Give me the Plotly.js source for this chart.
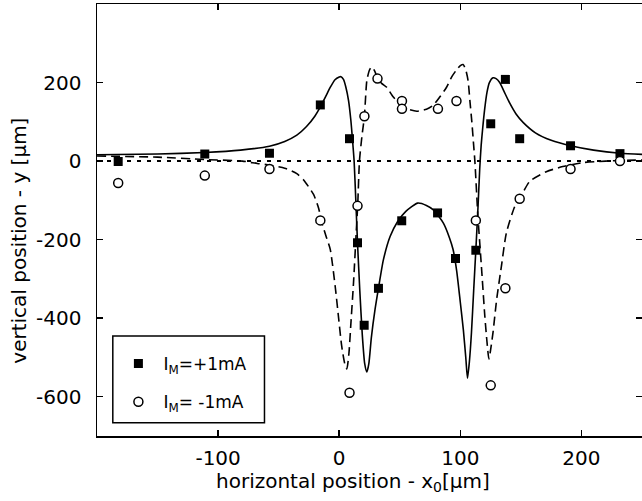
<!DOCTYPE html>
<html>
<head>
<meta charset="utf-8">
<script src="https://cdn.plot.ly/plotly-3.0.1.min.js"></script>
<style>html,body{margin:0;padding:0;background:#fff;}</style>
</head>
<body>
<div id="chart" style="width:642px;height:501px;"></div>
<script>
// measured data, I_M = +1 mA (filled squares)
const plusX = [-182.5, -111, -57.6, -15.6, 8.5, 15.1, 20.6, 32.4, 51.6, 81.2, 96, 112.8, 125.1, 137.2, 149, 191, 231.8];
const plusY = [-1, 18, 20, 143, 57, -208, -418, -324, -152, -132, -248, -227, 95, 208, 57, 39, 19];
// measured data, I_M = -1 mA (open circles)
const minusX = [-182.5, -111, -57.6, -15.6, 8.5, 15.1, 20.8, 31.6, 51.8, 51.8, 81.5, 96.8, 112.8, 125.1, 137.2, 149, 191, 231.8];
const minusY = [-56, -37, -20, -151, -590, -114, 114, 210, 153, 133, 133, 153, -151, -571, -324, -96, -20, 0];
// fitted curve, +1 mA (solid)
const fitPlusX = [-200, -150, -111, -81.5, -57.6, -45, -35, -27, -20, -15.6, -10, -7, -3.5, 0, 1.5, 3.5, 5.5, 7.7, 9.6, 11, 12.3, 13.7, 15.1, 17, 19, 21, 22.8, 24.5, 26.5, 29.6, 32.4, 36.5, 42, 48, 55, 64.8, 72, 78, 86, 91, 94, 97, 100, 102.5, 104.5, 105.9, 107.5, 109.2, 111, 113, 114.7, 116, 117.2, 118.5, 120, 122, 124, 127, 129.5, 132.5, 136, 140.7, 146, 152, 162, 175, 191, 210, 232, 250];
const fitPlusY = [16, 18, 22, 28, 38, 50, 66, 88, 115, 138, 172, 190, 207, 214, 215, 208, 188, 154, 104, 53, 0, -100, -208, -330, -440, -515, -537, -515, -450, -377, -324, -251, -192, -155, -128, -107, -113, -125, -158, -195, -225, -280, -360, -430, -500, -553, -510, -436, -330, -215, -110, -20, 40, 85, 130, 175, 200, 212, 210, 200, 178, 148, 120, 98, 72, 53, 39, 28, 20, 17];
// fitted curve, -1 mA (dashed)
const fitMinusX = [-200, -150, -111, -80, -67.7, -57.6, -45, -35, -29.4, -21.2, -17, -14.5, -11, -7.4, -3.3, -0.5, 2, 4.5, 6.3, 8, 9.5, 11.8, 14, 15.3, 16.7, 18.7, 20.8, 22.8, 25, 27, 29.5, 31.5, 35, 39.2, 44.7, 53, 64, 72, 77.6, 83, 88.6, 93, 96.8, 100, 102.3, 104.5, 106.4, 108, 109.5, 111, 112, 114.5, 117.4, 120.2, 122, 123.6, 125.5, 127, 130, 133.9, 138, 144.9, 149, 157.2, 171, 184.6, 201, 220, 250];
const fitMinusY = [13, 10, 4, 0, -6, -10, -18, -32, -48, -85, -120, -155, -190, -225, -320, -400, -470, -515, -529, -490, -420, -310, -183, -110, 0, 62, 114, 205, 232, 240, 228, 212, 198, 188, 163, 137, 127, 132, 142, 163, 188, 215, 232, 243, 246, 232, 205, 150, 100, 40, 0, -140, -268, -394, -460, -504, -470, -436, -352, -268, -183, -116, -96, -52, -27, -14, -4, 0, 3];
// axes
const xTickVals = [-100, 0, 100, 200];
const xTickText = ['-100', '0', '100', '200'];
const yTickVals = [-600, -400, -200, 0, 200];
const yTickText = ['-600', '-400', '-200', '0', '200'];
const seriesNames = ['I<sub>M</sub>=+1mA', 'I<sub>M</sub>= -1mA'];

const FONT = 'DejaVu Sans, Liberation Sans, Arial, sans-serif';

const traces = [
  {x: fitPlusX, y: fitPlusY, type: 'scatter', mode: 'lines', showlegend: false, hoverinfo: 'skip',
   line: {color: '#000', width: 1.6, shape: 'spline', smoothing: 0.6}},
  {x: fitMinusX, y: fitMinusY, type: 'scatter', mode: 'lines', showlegend: false, hoverinfo: 'skip',
   line: {color: '#000', width: 1.6, dash: '9px,5px', shape: 'spline', smoothing: 0.6}},
  {x: plusX, y: plusY, type: 'scatter', mode: 'markers', name: seriesNames[0], legendgroup: 'a',
   marker: {symbol: 'square', size: 9, color: '#000'}},
  {x: minusX, y: minusY, type: 'scatter', mode: 'markers', name: seriesNames[1], legendgroup: 'b',
   marker: {symbol: 'circle', size: 9, color: '#fff', line: {color: '#000', width: 1.5}}}
];

const axisCommon = {
  showline: true, linecolor: '#000', linewidth: 1.5, mirror: 'allticks',
  ticks: 'inside', ticklen: 6, tickwidth: 1.5, tickcolor: '#000',
  showgrid: false, zeroline: false,
  tickfont: {family: FONT, size: 20, color: '#000'}
};

const layout = {
  width: 642, height: 501,
  margin: {l: 97, r: 0, t: 4, b: 65},
  paper_bgcolor: '#fff', plot_bgcolor: '#fff',
  font: {family: FONT, color: '#000'},
  xaxis: Object.assign({}, axisCommon, {range: [-200, 250], tickmode: 'array', tickvals: xTickVals, ticktext: xTickText, ticklabelstandoff: 3}),
  yaxis: Object.assign({}, axisCommon, {range: [-700, 400], tickmode: 'array', tickvals: yTickVals, ticktext: yTickText, ticklabelstandoff: 10}),
  showlegend: true,
  legend: {x: 0.0301, y: 0.2083, xanchor: 'left', yanchor: 'top', borderwidth: 0, itemwidth: 40,
           bgcolor: 'rgba(0,0,0,0)', font: {family: FONT, size: 17, color: '#000'}, traceorder: 'grouped', tracegroupgap: 13},
  shapes: [
    {type: 'line', xref: 'paper', x0: 0, x1: 1, yref: 'y', y0: 0, y1: 0,
     line: {color: '#000', width: 2, dash: '4px,6px'}, layer: 'below'},
    {type: 'rect', xref: 'paper', yref: 'paper', x0: 0.029, x1: 0.3073, y0: 0.0308, y1: 0.2315,
     line: {color: '#000', width: 1.5}, fillcolor: '#fff', layer: 'above'}
  ],
  annotations: [
    {text: 'horizontal position - x<sub>0</sub>[μm]', xref: 'paper', yref: 'paper', x: 0.4706, y: -0.1065,
     xanchor: 'center', yanchor: 'middle', showarrow: false, font: {family: FONT, size: 20, color: '#000'}},
    {text: 'vertical position - y [μm]', xref: 'paper', yref: 'paper', x: -0.1422, y: 0.451, textangle: -90,
     xanchor: 'center', yanchor: 'middle', showarrow: false, font: {family: FONT, size: 20, color: '#000'}}
  ]
};

Plotly.newPlot('chart', traces, layout, {staticPlot: true, displayModeBar: false});
</script>
</body>
</html>
